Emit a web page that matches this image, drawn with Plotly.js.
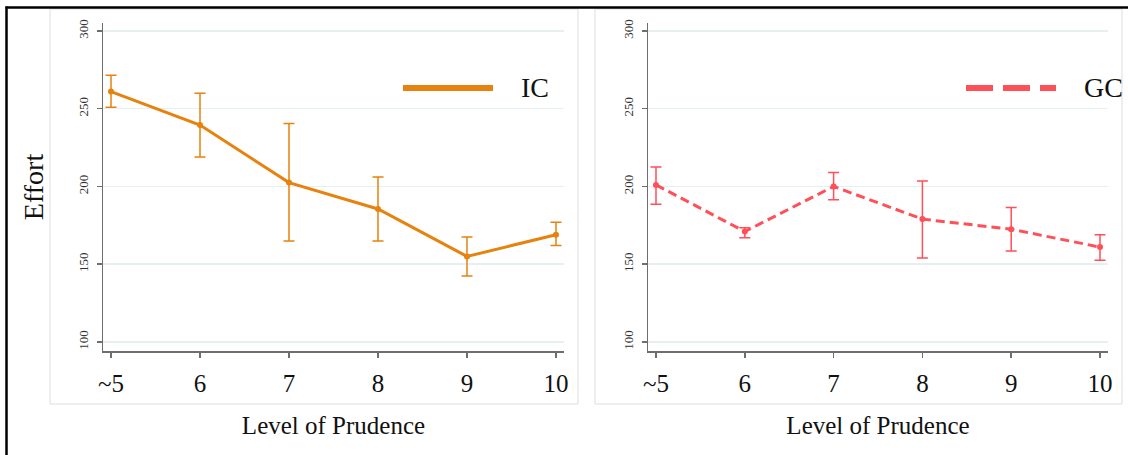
<!DOCTYPE html>
<html>
<head>
<meta charset="utf-8">
<script src="https://cdn.plot.ly/plotly-3.0.1.min.js"></script>
<style>
  html, body { margin: 0; padding: 0; background: #ffffff; }
  #chart { width: 1128px; height: 455px; }
</style>
</head>
<body>
<div id="chart"></div>
<script>
// ---- data ----
const categories = ["~5", "6", "7", "8", "9", "10"];
const icMean  = [261, 239.5, 202.5, 185.5, 155, 169];
const icUpper = [271.5, 260, 240.5, 206, 167.5, 177];
const icLower = [251, 219, 165, 165, 142.5, 162];
const gcMean  = [201, 171, 200, 179, 172.5, 161];
const gcUpper = [212.5, 173.5, 209, 203.5, 186.5, 169];
const gcLower = [188.5, 167, 191.5, 154, 158.5, 152.5];
const yTicks = [100, 150, 200, 250, 300];
const seriesNames = ["IC", "GC"];
const xTitle = "Level of Prudence";
const yTitle = "Effort";

// ---- styles ----
const W = 1128, H = 455;
const px = v => v / W;
const py = v => 1 - v / H;
const serif = 'Liberation Serif, Times New Roman, serif';
const icColor = '#e6820e';
const gcColor = '#ff4f57';

const plus = (hi, m) => hi.map((v, i) => v - m[i]);
const minus = (lo, m) => m.map((v, i) => v - lo[i]);

const traces = [
  {
    x: categories, y: icMean, type: 'scatter', mode: 'lines+markers',
    name: seriesNames[0], xaxis: 'x', yaxis: 'y',
    line: { color: icColor, width: 3 },
    marker: { color: icColor, size: 6 },
    error_y: { type: 'data', symmetric: false,
      array: plus(icUpper, icMean), arrayminus: minus(icLower, icMean),
      color: icColor, thickness: 1.5, width: 5.5 },
    showlegend: false, hoverinfo: 'skip'
  },
  {
    x: categories, y: gcMean, type: 'scatter', mode: 'lines+markers',
    name: seriesNames[1], xaxis: 'x2', yaxis: 'y2',
    line: { color: gcColor, width: 3, dash: '9px,5px' },
    marker: { color: gcColor, size: 6 },
    error_y: { type: 'data', symmetric: false,
      array: plus(gcUpper, gcMean), arrayminus: minus(gcLower, gcMean),
      color: gcColor, thickness: 1.5, width: 5.5 },
    showlegend: false, hoverinfo: 'skip'
  }
];

function xAxis(domain, anchor) {
  return {
    domain: domain, anchor: anchor, type: 'category',
    range: [-0.09, 5.09], fixedrange: true,
    showline: true, linecolor: '#6e6e6e', linewidth: 1.5,
    showgrid: false, zeroline: false,
    ticks: 'outside', ticklen: 5, tickwidth: 1.5, tickcolor: '#6e6e6e',
    ticklabelstandoff: 4,
    tickfont: { family: serif, size: 25, color: '#111' },
    title: { text: xTitle, font: { family: serif, size: 25, color: '#111' }, standoff: 21 },
    automargin: false
  };
}
function yAxis(anchor, withTitle) {
  return {
    domain: [py(351), py(23)], anchor: anchor,
    range: [94.2, 305.1], fixedrange: true,
    tickvals: yTicks, ticktext: yTicks.map(String), tickangle: -90,
    showline: true, linecolor: '#6e6e6e', linewidth: 1.5,
    showgrid: true, gridcolor: '#e7f0f0', gridwidth: 1.5, zeroline: false,
    ticks: 'outside', ticklen: 5, tickwidth: 1.5, tickcolor: '#6e6e6e',
    ticklabelstandoff: 3,
    tickfont: { family: serif, size: 13, color: '#333' },
    title: withTitle ? { text: yTitle, font: { family: serif, size: 28, color: '#111' }, standoff: 24 } : { text: '' },
    automargin: false
  };
}

const layout = {
  width: W, height: H,
  margin: { l: 0, r: 0, t: 0, b: 0 },
  font: { family: serif, color: '#111' },
  paper_bgcolor: '#ffffff', plot_bgcolor: 'rgba(0,0,0,0)',
  showlegend: false,
  xaxis: xAxis([px(103), px(564)], 'y'),
  yaxis: yAxis('x', true),
  xaxis2: xAxis([px(648), px(1108)], 'y2'),
  yaxis2: yAxis('x2', false),
  shapes: [
    // outer black frame (top + left)
    { type: 'line', xref: 'paper', yref: 'paper', x0: px(5.5), x1: 1, y0: py(7.5), y1: py(7.5),
      line: { color: '#000', width: 2.5 }, layer: 'above' },
    { type: 'line', xref: 'paper', yref: 'paper', x0: px(6.5), x1: px(6.5), y0: py(6.5), y1: 0,
      line: { color: '#000', width: 2.5 }, layer: 'above' },
    // panel boxes
    { type: 'rect', xref: 'paper', yref: 'paper', x0: px(50), x1: px(578), y0: py(404), y1: py(9),
      line: { color: '#dedede', width: 1 }, layer: 'below' },
    { type: 'rect', xref: 'paper', yref: 'paper', x0: px(595), x1: px(1122), y0: py(404), y1: py(9),
      line: { color: '#dedede', width: 1 }, layer: 'below' },
    // legend samples
    { type: 'line', xref: 'paper', yref: 'paper', x0: px(403), x1: px(493), y0: py(88), y1: py(88),
      line: { color: icColor, width: 6 } },
    { type: 'line', xref: 'paper', yref: 'paper', x0: px(966), x1: px(1056), y0: py(88), y1: py(88),
      line: { color: gcColor, width: 6, dash: '27px,10px' } }
  ],
  annotations: [
    { xref: 'paper', yref: 'paper', x: px(519), y: py(88), xanchor: 'left', yanchor: 'middle',
      text: seriesNames[0], showarrow: false, font: { family: serif, size: 28, color: '#111' } },
    { xref: 'paper', yref: 'paper', x: px(1082), y: py(88), xanchor: 'left', yanchor: 'middle',
      text: seriesNames[1], showarrow: false, font: { family: serif, size: 28, color: '#111' } }
  ]
};

Plotly.newPlot('chart', traces, layout, { staticPlot: true, displayModeBar: false });
</script>
</body>
</html>
